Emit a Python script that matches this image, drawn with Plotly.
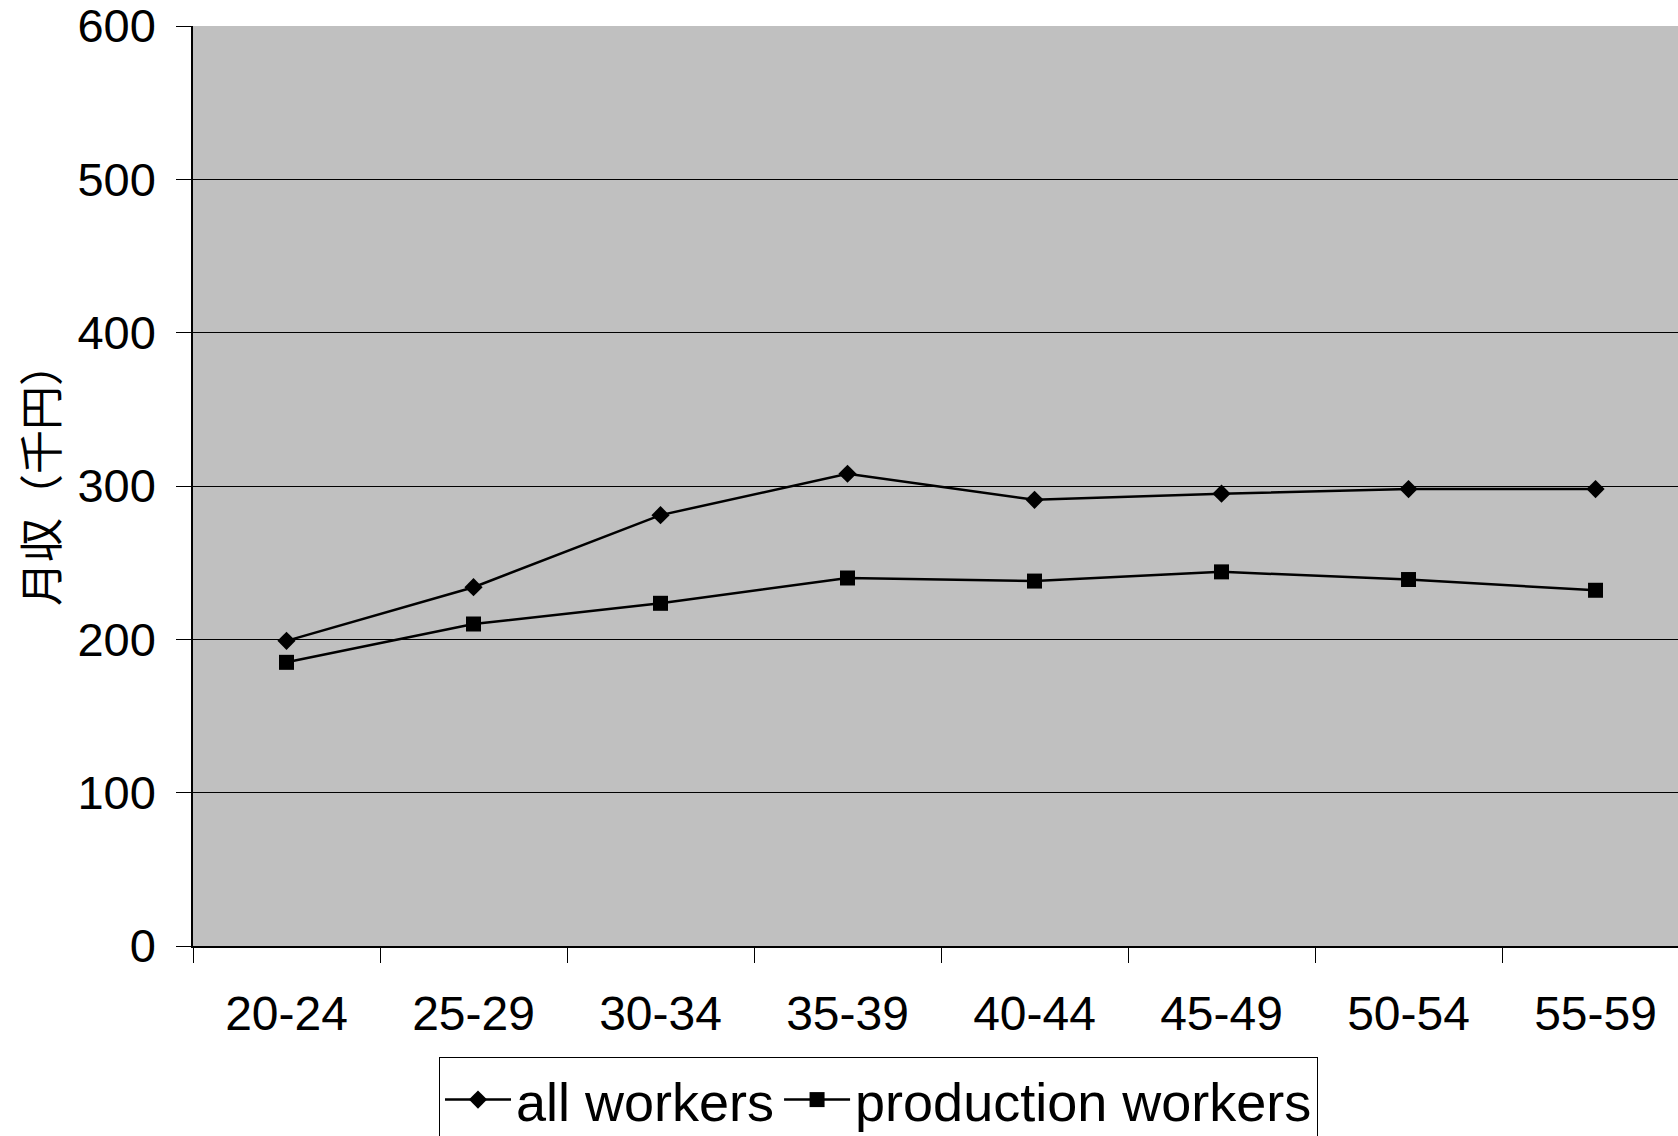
import plotly.graph_objects as go

categories = ["20-24", "25-29", "30-34", "35-39", "40-44", "45-49", "50-54", "55-59"]
all_workers = [199, 234, 281, 308, 291, 295, 298, 298]
production_workers = [185, 210, 223.5, 240, 238, 244, 239, 232]
y_ticks = [0, 100, 200, 300, 400, 500, 600]
y_title = "月収（千円）"

FONT = "Liberation Sans, Arial, sans-serif"

W, H = 1678, 1136
L, T = 193, 26
PLOT_BOTTOM = 946
B = H - PLOT_BOTTOM

fig = go.Figure()
fig.add_trace(go.Scatter(
    x=categories, y=all_workers, name="all workers", mode="lines+markers",
    line=dict(color="black", width=2.5),
    marker=dict(symbol="diamond", size=14, color="black"),
))
fig.add_trace(go.Scatter(
    x=categories, y=production_workers, name="production workers", mode="lines+markers",
    line=dict(color="black", width=2.5),
    marker=dict(symbol="square", size=15, color="black"),
))

plot_h = H - T - B
plot_w = W - L

fig.update_layout(
    width=W, height=H,
    margin=dict(l=L, r=0, t=T, b=B, autoexpand=False),
    paper_bgcolor="white",
    plot_bgcolor="#C0C0C0",
    font=dict(family=FONT, color="black"),
    showlegend=True,
    legend=dict(
        orientation="h",
        x=(439 - L) / plot_w, xanchor="left",
        y=-(1057 - PLOT_BOTTOM) / plot_h, yanchor="top",
        bgcolor="white", bordercolor="black", borderwidth=1,
        font=dict(size=54, family=FONT, color="black"),
        itemwidth=66,
    ),
    xaxis=dict(
        type="category",
        range=[-0.5, 7.441],
        tickson="boundaries",
        ticks="outside", ticklen=15, tickcolor="black", tickwidth=1,
        showline=True, linecolor="black", linewidth=2,
        showgrid=False,
        tickfont=dict(size=48, family=FONT, color="black"),
        ticklabelstandoff=24,
    ),
    yaxis=dict(
        range=[0, 600],
        tickmode="array", tickvals=y_ticks,
        ticks="outside", ticklen=15, tickcolor="black", tickwidth=1,
        showline=True, linecolor="black", linewidth=1.5,
        showgrid=True, gridcolor="black", gridwidth=1,
        zeroline=False,
        tickfont=dict(size=47, family=FONT, color="black"),
        ticklabelstandoff=11,
        ticklabeloverflow="allow",
    ),
    annotations=[dict(
        text=y_title, textangle=-90,
        xref="paper", yref="paper",
        x=(39 - L) / plot_w, y=0.5, xanchor="center", yanchor="middle",
        yshift=12, showarrow=False,
        font=dict(size=44, family="Noto Sans CJK JP, sans-serif", color="black"),
    )],
)

fig.write_html(
    "out.html",
    config={"displayModeBar": False},
    post_script="document.body.style.margin='0';document.body.style.overflow='hidden';",
)
